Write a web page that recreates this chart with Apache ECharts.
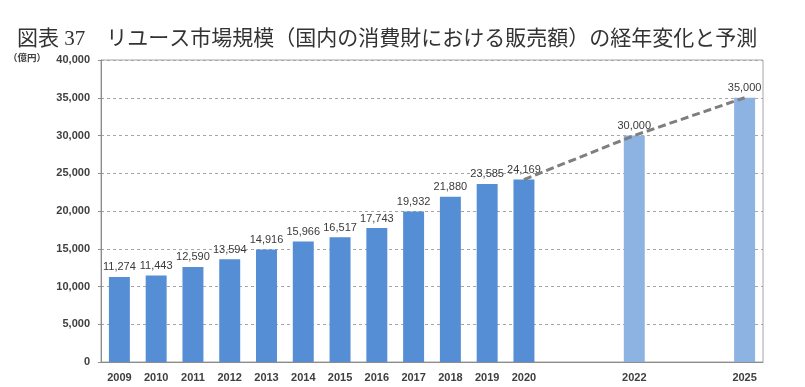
<!DOCTYPE html>
<html><head><meta charset="utf-8">
<script src="https://cdn.jsdelivr.net/npm/echarts@6/dist/echarts.min.js"></script>
<style>html,body{margin:0;padding:0;background:#fff}#c{width:805px;height:387px}</style>
</head><body><div id="c"></div>
<script>
const categories = ['2009','2010','2011','2012','2013','2014','2015','2016','2017','2018','2019','2020','','','2022','','','2025'];
const actualValues = [11274,11443,12590,13594,14916,15966,16517,17743,19932,21880,23585,24169,null,null,null,null,null,null];
const forecastValues = [null,null,null,null,null,null,null,null,null,null,null,null,null,null,30000,null,null,35000];
const trendValues = [null,null,null,null,null,null,null,null,null,null,null,24169,null,null,30000,null,null,35000];
const yTicks = {min:0,max:40000,interval:5000};

const fmt = v => v == null ? '' : Number(v).toLocaleString('en-US');
const labelStyle = {show:true, position:'top', distance:4, color:'#3a3a3a', fontSize:11, fontFamily:'Liberation Sans, Arial, sans-serif', formatter: p => fmt(p.value)};

const chart = echarts.init(document.getElementById('c'), null, {renderer:'canvas'});
chart.setOption({
  animation:false,
  backgroundColor:'#fff',
  title:{text:'図表 37　リユース市場規模（国内の消費財における販売額）の経年変化と予測', left:12, top:24,
    textStyle:{fontFamily:'Liberation Serif, "Noto Sans CJK JP", serif', fontSize:21, fontWeight:'normal', color:'#333'}},
  graphic:[{type:'text', left:8, top:53, style:{text:'（億円）', fontSize:9.5, fontWeight:'bold', fill:'#404040', fontFamily:'"Noto Sans CJK JP", sans-serif'}}],
  grid:{left:101, right:42, top:60, bottom:25, show:true, borderColor:'#a6a6a6', borderWidth:1},
  xAxis:{type:'category', data:categories,
    axisLine:{lineStyle:{color:'#8c8c8c', width:1}}, axisTick:{show:false},
    axisLabel:{interval:0, color:'#404040', fontSize:11, fontWeight:'bold', fontFamily:'Liberation Sans, Arial, sans-serif', margin:10}},
  yAxis:{type:'value', min:yTicks.min, max:yTicks.max, interval:yTicks.interval,
    axisLine:{show:true, lineStyle:{color:'#8c8c8c'}}, axisTick:{show:true, length:3, lineStyle:{color:'#8c8c8c'}},
    splitLine:{lineStyle:{type:[3,3], color:'#a6a6a6'}},
    axisLabel:{color:'#404040', fontSize:11, fontWeight:'bold', fontFamily:'Liberation Sans, Arial, sans-serif', margin:11, formatter: v => fmt(v)}},
  series:[
    {type:'bar', stack:'s', data:actualValues, barCategoryGap:'43%', itemStyle:{color:'#558ed5'}, label:labelStyle},
    {type:'bar', stack:'s', data:forecastValues, barCategoryGap:'43%', itemStyle:{color:'#8db3e2'}, label:labelStyle},
    {type:'line', data:trendValues, connectNulls:true, symbol:'none', z:5,
      lineStyle:{color:'#7f7f7f', width:3, type:[8,4]}}
  ]
});
</script></body></html>
